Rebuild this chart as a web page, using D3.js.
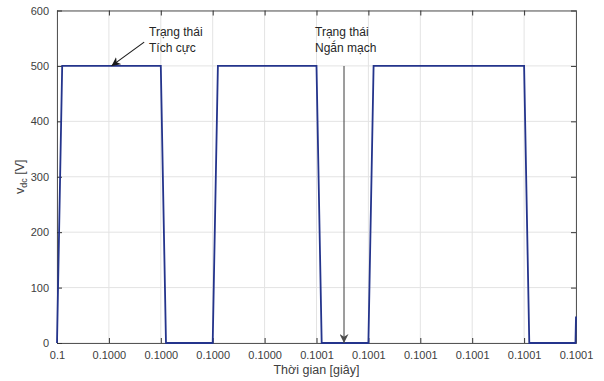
<!DOCTYPE html>
<html>
<head>
<meta charset="utf-8">
<script src="https://cdn.jsdelivr.net/npm/d3@7"></script>
<style>
  body { margin: 0; background: #fff; }
  svg { font-family: "Liberation Sans", Arial, Helvetica, sans-serif; }
</style>
</head>
<body>
<div id="chart"></div>
<script>
// waveform samples (time in seconds, vdc in volts)
const times = [0.1, 0.100001, 0.10002, 0.100021, 0.10003, 0.100031, 0.10005, 0.100051,
  0.10006, 0.100061, 0.10009, 0.100091, 0.1000999, 0.1001];
const vdc = [0, 500, 500, 0, 0, 500, 500, 0, 0, 500, 500, 0, 0, 48];

// axis ticks
const xTicks = [0.1, 0.10001, 0.10002, 0.10003, 0.10004, 0.10005, 0.10006, 0.10007, 0.10008, 0.10009, 0.1001];
const xTickLabels = ["0.1", "0.1000", "0.1000", "0.1000", "0.1000", "0.1001", "0.1001", "0.1001", "0.1001", "0.1001", "0.1001"];
const yTicks = [0, 100, 200, 300, 400, 500, 600];

// annotations: text lines, arrow tail, arrow head (data coords)
const noteActive = { lines: ["Trạng thái", "Tích cực"], tail: [0.1000168, 543], head: [0.1000105, 500] };
const noteShort = { lines: ["Trạng thái", "Ngắn mạch"], tail: [0.1000553, 500], head: [0.1000553, 0] };

const margin = { top: 10.5, right: 28, bottom: 38, left: 57 },
  width = 604 - margin.left - margin.right,
  height = 381 - margin.top - margin.bottom;

const svg = d3.select("#chart").append("svg")
  .attr("width", 604).attr("height", 381)
  .append("g")
  .attr("transform", "translate(" + margin.left + "," + margin.top + ")");

const x = d3.scaleLinear().domain([0.1, 0.1001]).range([0, width]);
const y = d3.scaleLinear().domain([0, 600]).range([height, 0]);

// grid
svg.append("g").selectAll("line").data(xTicks).enter().append("line")
  .attr("x1", d => x(d)).attr("x2", d => x(d)).attr("y1", 0).attr("y2", height)
  .attr("stroke", "#e3e3e3");
svg.append("g").selectAll("line").data(yTicks).enter().append("line")
  .attr("y1", d => y(d)).attr("y2", d => y(d)).attr("x1", 0).attr("x2", width)
  .attr("stroke", "#e3e3e3");

// axes (ticks inward, box on all four sides)
const fmtX = (d, i) => xTickLabels[i];
const axes = [
  svg.append("g").attr("transform", "translate(0," + height + ")")
    .call(d3.axisBottom(x).tickValues(xTicks).tickFormat(fmtX).tickSizeInner(-5).tickSizeOuter(0).tickPadding(8)),
  svg.append("g")
    .call(d3.axisTop(x).tickValues(xTicks).tickFormat("").tickSizeInner(-5).tickSizeOuter(0)),
  svg.append("g")
    .call(d3.axisLeft(y).tickValues(yTicks).tickSizeInner(-5).tickSizeOuter(0).tickPadding(8)),
  svg.append("g").attr("transform", "translate(" + width + ",0)")
    .call(d3.axisRight(y).tickValues(yTicks).tickFormat("").tickSizeInner(-5).tickSizeOuter(0)),
];
axes.forEach(g => {
  g.select(".domain").attr("stroke", "#555");
  g.selectAll(".tick line").attr("stroke", "#333");
  g.selectAll(".tick text").attr("fill", "#404040").style("font-size", "11px");
});

// waveform
const line = d3.line().x((d, i) => x(times[i])).y(d => y(d));
svg.append("path").datum(vdc)
  .attr("fill", "none").attr("stroke", "#24348c").attr("stroke-width", 1.8)
  .attr("stroke-linejoin", "miter")
  .attr("d", line);

// arrow heads
const defs = svg.append("defs");
[["headBlack", "#1a1a1a"], ["headGray", "#4d4d4d"]].forEach(([id, c]) => {
  defs.append("marker").attr("id", id)
    .attr("viewBox", "0 0 10 10").attr("refX", 10).attr("refY", 5)
    .attr("markerWidth", 9).attr("markerHeight", 9).attr("markerUnits", "userSpaceOnUse")
    .attr("orient", "auto")
    .append("path").attr("d", "M0,0 L10,5 L0,10 L3,5 Z").attr("fill", c);
});

function annotate(note, color, marker, tx, ty) {
  svg.append("line")
    .attr("x1", x(note.tail[0])).attr("y1", y(note.tail[1]))
    .attr("x2", x(note.head[0])).attr("y2", y(note.head[1]))
    .attr("stroke", color).attr("stroke-width", 1.1)
    .attr("marker-end", "url(#" + marker + ")");
  const t = svg.append("text").attr("fill", "#262626").style("font-size", "12px");
  note.lines.forEach((s, i) => {
    t.append("tspan").attr("x", tx).attr("y", ty + i * 15.5).text(s);
  });
}
annotate(noteActive, "#1a1a1a", "headBlack", 92, 25.5);
annotate(noteShort, "#4d4d4d", "headGray", 258, 25.5);

// axis labels
svg.append("text")
  .attr("x", width / 2).attr("y", height + 31)
  .attr("text-anchor", "middle").attr("fill", "#404040").style("font-size", "12.5px")
  .text("Thời gian [giây]");

const yl = svg.append("text")
  .attr("transform", "translate(-33," + height / 2 + ") rotate(-90)")
  .attr("text-anchor", "middle").attr("fill", "#404040").style("font-size", "12.5px");
yl.append("tspan").text("v");
yl.append("tspan").attr("dy", 3).style("font-size", "9px").text("dc");
yl.append("tspan").attr("dy", -3).text(" [V]");
</script>
</body>
</html>
